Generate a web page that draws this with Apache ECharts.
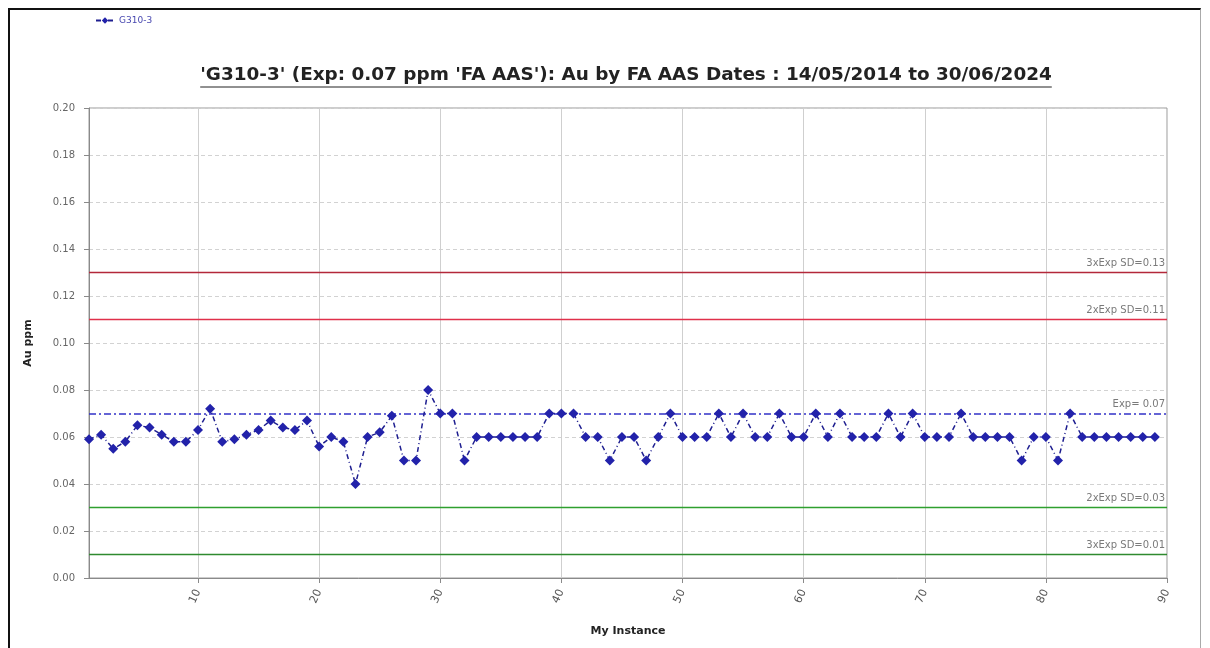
<!DOCTYPE html>
<html>
<head>
<meta charset="utf-8">
<title>G310-3 Au by FA AAS</title>
<script src="https://cdn.jsdelivr.net/npm/echarts@6/dist/echarts.min.js"></script>
<style>
html, body { margin:0; padding:0; background:#fff; }
#frame {
  position:absolute; left:8px; top:8px; width:1193px; height:645px;
  border-left:2px solid #111; border-top:2px solid #111; border-right:1px solid #aaa;
  box-sizing:border-box;
}
#chart { position:absolute; left:0; top:0; width:1210px; height:648px; }
</style>
</head>
<body>
<div id="frame"></div>
<div id="chart"></div>
<script>
// instances on the x axis (1..90)
var instances = [];
for (var i = 1; i <= 90; i++) instances.push(String(i));

var auValues = [
  0.059, 0.061, 0.055, 0.058, 0.065, 0.064, 0.061, 0.058, 0.058, 0.063,
  0.072, 0.058, 0.059, 0.061, 0.063, 0.067, 0.064, 0.063, 0.067, 0.056,
  0.060, 0.058, 0.040, 0.060, 0.062, 0.069, 0.050, 0.050, 0.080, 0.070,
  0.070, 0.050, 0.060, 0.060, 0.060, 0.060, 0.060, 0.060, 0.070, 0.070,
  0.070, 0.060, 0.060, 0.050, 0.060, 0.060, 0.050, 0.060, 0.070, 0.060,
  0.060, 0.060, 0.070, 0.060, 0.070, 0.060, 0.060, 0.070, 0.060, 0.060,
  0.070, 0.060, 0.070, 0.060, 0.060, 0.060, 0.070, 0.060, 0.070, 0.060,
  0.060, 0.060, 0.070, 0.060, 0.060, 0.060, 0.060, 0.050, 0.060, 0.060,
  0.050, 0.070, 0.060, 0.060, 0.060, 0.060, 0.060, 0.060, 0.060
];

// control limits
var limitValues = [0.13, 0.11, 0.07, 0.03, 0.01];
var limitLabels = ['3xExp SD=0.13', '2xExp SD=0.11', 'Exp= 0.07', '2xExp SD=0.03', '3xExp SD=0.01'];
var limitColors = ['#b3283a', '#e0304a', '#3232c8', '#2fa02f', '#2f8a2f'];

var titleText = "'G310-3' (Exp: 0.07 ppm 'FA AAS'): Au by FA AAS Dates : 14/05/2014 to 30/06/2024";
var titleSize = 18.4;

// width of the title, for the underline
var ctx = document.createElement('canvas').getContext('2d');
ctx.font = 'bold ' + titleSize + 'px "DejaVu Sans"';
var titleW = ctx.measureText(titleText).width;
var titleCx = 626;

var everyTenth = function (index) { return (index + 1) % 10 === 0; };

var limitLines = limitValues.map(function (v, k) {
  var style = {
    color: limitColors[k],
    width: k === 2 ? 1.5 : 1.3,
    type: k === 2 ? [7, 3, 2, 3] : 'solid',
    opacity: 1
  };
  return {
    name: limitLabels[k],
    type: 'line',
    data: [],
    silent: true,
    color: limitColors[k],
    markLine: {
      silent: true,
      symbol: 'none',
      animation: false,
      lineStyle: style,
      label: {
        show: true,
        position: 'insideEndTop',
        formatter: limitLabels[k],
        color: '#7a7a7a',
        fontSize: 10,
        distance: [2, 4]
      },
      data: [{ yAxis: v, lineStyle: style }]
    }
  };
});

var chart = echarts.init(document.getElementById('chart'));

chart.setOption({
  animation: false,
  textStyle: { fontFamily: 'DejaVu Sans' },
  title: {
    text: titleText,
    left: titleCx - titleW / 2,
    top: 66,
    padding: 0,
    textStyle: { fontSize: titleSize, fontWeight: 'bold', color: '#222', fontFamily: 'DejaVu Sans' }
  },
  graphic: [{
    type: 'line',
    shape: { x1: titleCx - titleW / 2, y1: 87, x2: titleCx + titleW / 2, y2: 87 },
    style: { stroke: '#222', lineWidth: 1 }
  }],
  legend: {
    left: 90,
    top: 11,
    itemWidth: 18,
    itemHeight: 8,
    itemGap: 4,
    textStyle: { fontSize: 9, color: '#4848b0' },
    data: ['G310-3']
  },
  grid: { left: 89, right: 43, top: 108, bottom: 70, show: true, borderColor: '#9a9a9a', borderWidth: 1 },
  xAxis: {
    type: 'category',
    data: instances,
    boundaryGap: false,
    name: 'My Instance',
    nameLocation: 'middle',
    nameGap: 48,
    nameTextStyle: { fontSize: 11, fontWeight: 'bold', color: '#222' },
    axisLine: { lineStyle: { color: '#8a8a8a' } },
    axisTick: { interval: everyTenth, length: 5, lineStyle: { color: '#8a8a8a' } },
    axisLabel: { interval: everyTenth, rotate: 65, fontSize: 11, color: '#555', margin: 12 },
    splitLine: { show: true, interval: everyTenth, lineStyle: { color: '#cfcfcf' } }
  },
  yAxis: {
    type: 'value',
    min: 0,
    max: 0.2,
    interval: 0.02,
    name: 'Au ppm',
    nameLocation: 'middle',
    nameGap: 55,
    nameTextStyle: { fontSize: 11, fontWeight: 'bold', color: '#222' },
    axisLine: { show: true, lineStyle: { color: '#8a8a8a' } },
    axisTick: { show: true, length: 5, lineStyle: { color: '#8a8a8a' } },
    axisLabel: { fontSize: 10, color: '#666', margin: 14, formatter: function (v) { return v.toFixed(2); } },
    splitLine: { lineStyle: { color: '#d2d2d2', type: [4, 3] } }
  },
  series: [{
    name: 'G310-3',
    type: 'line',
    data: auValues,
    z: 5,
    symbol: 'diamond',
    symbolSize: 10,
    showAllSymbol: true,
    itemStyle: { color: '#2222aa' },
    lineStyle: { color: '#1e1e90', width: 1.5, type: [5, 3, 1, 3] }
  }].concat(limitLines)
});
</script>
</body>
</html>
